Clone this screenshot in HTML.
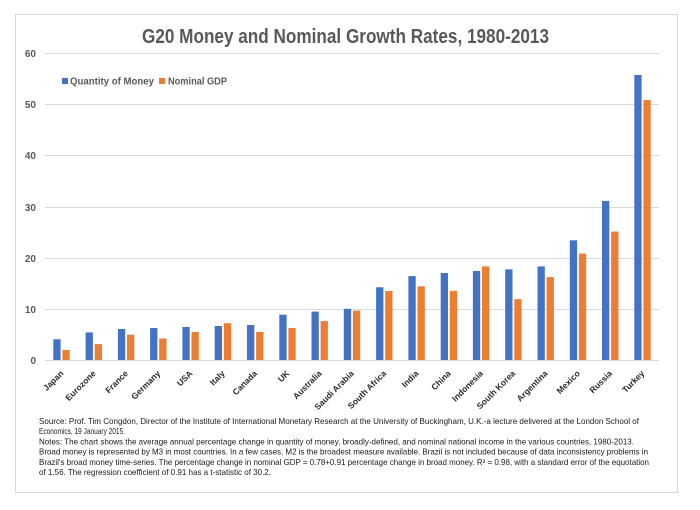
<!DOCTYPE html>
<html><head><meta charset="utf-8"><style>
html,body{margin:0;padding:0;background:#fff;}
svg{display:block;}
text{font-family:"Liberation Sans",sans-serif;}
</style></head><body>
<svg width="700" height="510" viewBox="0 0 700 510" xmlns="http://www.w3.org/2000/svg">
<rect x="0" y="0" width="700" height="510" fill="#fff"/>
<rect x="15.5" y="14.5" width="662" height="478" fill="#fff" stroke="#d9d9d9" stroke-width="1"/>
<text x="142" y="43" font-size="20" font-weight="bold" fill="#595959" textLength="407" lengthAdjust="spacingAndGlyphs">G20 Money and Nominal Growth Rates, 1980-2013</text>
<g stroke="#d9d9d9" stroke-width="1">
<line x1="45" y1="53.5" x2="659" y2="53.5"/>
<line x1="45" y1="104.5" x2="659" y2="104.5"/>
<line x1="45" y1="155.5" x2="659" y2="155.5"/>
<line x1="45" y1="207.5" x2="659" y2="207.5"/>
<line x1="45" y1="258.5" x2="659" y2="258.5"/>
<line x1="45" y1="309.5" x2="659" y2="309.5"/>
<line x1="45" y1="360.5" x2="659" y2="360.5"/>
</g>
<g font-size="10" font-weight="bold" fill="#595959" text-anchor="end">
<text x="36" y="57">60</text>
<text x="36" y="108">50</text>
<text x="36" y="159">40</text>
<text x="36" y="211">30</text>
<text x="36" y="262">20</text>
<text x="36" y="313">10</text>
<text x="36" y="364">0</text>
</g>
<rect x="62" y="78" width="6" height="6" fill="#4472c4"/>
<text x="70" y="84.5" font-size="10" font-weight="bold" fill="#595959" textLength="84" lengthAdjust="spacingAndGlyphs">Quantity of Money</text>
<rect x="159" y="78" width="6" height="6" fill="#ed7d31"/>
<text x="168" y="84.5" font-size="10" font-weight="bold" fill="#595959" textLength="59" lengthAdjust="spacingAndGlyphs">Nominal GDP</text>
<g fill="#4472c4">
<rect x="53.3" y="339.3" width="7.3" height="20.7"/>
<rect x="85.6" y="332.4" width="7.3" height="27.6"/>
<rect x="117.9" y="329.0" width="7.3" height="31.0"/>
<rect x="150.1" y="328.0" width="7.3" height="32.0"/>
<rect x="182.4" y="327.0" width="7.3" height="33.0"/>
<rect x="214.7" y="326.0" width="7.3" height="34.0"/>
<rect x="247.0" y="325.0" width="7.3" height="35.0"/>
<rect x="279.3" y="314.7" width="7.3" height="45.3"/>
<rect x="311.5" y="311.6" width="7.3" height="48.4"/>
<rect x="343.8" y="308.8" width="7.3" height="51.2"/>
<rect x="376.1" y="287.3" width="7.3" height="72.7"/>
<rect x="408.4" y="276.1" width="7.3" height="83.9"/>
<rect x="440.7" y="273.0" width="7.3" height="87.0"/>
<rect x="472.9" y="271.0" width="7.3" height="89.0"/>
<rect x="505.2" y="269.4" width="7.3" height="90.6"/>
<rect x="537.5" y="266.4" width="7.3" height="93.6"/>
<rect x="569.8" y="240.3" width="7.3" height="119.7"/>
<rect x="602.0" y="200.9" width="7.3" height="159.1"/>
<rect x="634.3" y="75.0" width="7.3" height="285.0"/>
</g>
<g fill="#ed7d31">
<rect x="62.4" y="350.0" width="7.3" height="10.0"/>
<rect x="94.7" y="344.1" width="7.3" height="15.9"/>
<rect x="127.0" y="334.7" width="7.3" height="25.3"/>
<rect x="159.2" y="338.5" width="7.3" height="21.5"/>
<rect x="191.5" y="331.9" width="7.3" height="28.1"/>
<rect x="223.8" y="323.2" width="7.3" height="36.8"/>
<rect x="256.1" y="331.9" width="7.3" height="28.1"/>
<rect x="288.4" y="328.0" width="7.3" height="32.0"/>
<rect x="320.6" y="321.1" width="7.3" height="38.9"/>
<rect x="352.9" y="310.6" width="7.3" height="49.4"/>
<rect x="385.2" y="290.9" width="7.3" height="69.1"/>
<rect x="417.5" y="286.3" width="7.3" height="73.7"/>
<rect x="449.8" y="290.9" width="7.3" height="69.1"/>
<rect x="482.0" y="266.4" width="7.3" height="93.6"/>
<rect x="514.3" y="299.1" width="7.3" height="60.9"/>
<rect x="546.6" y="277.1" width="7.3" height="82.9"/>
<rect x="578.9" y="253.6" width="7.3" height="106.4"/>
<rect x="611.1" y="231.6" width="7.3" height="128.4"/>
<rect x="643.4" y="100.1" width="7.3" height="259.9"/>
</g>
<g font-size="8.5" font-weight="bold" fill="#2b2b2b" text-anchor="end">
<text transform="translate(64,374) rotate(-45)">Japan</text>
<text transform="translate(96.3,374) rotate(-45)">Eurozone</text>
<text transform="translate(128.6,374) rotate(-45)">France</text>
<text transform="translate(160.8,374) rotate(-45)">Germany</text>
<text transform="translate(193.1,374) rotate(-45)">USA</text>
<text transform="translate(225.4,374) rotate(-45)">Italy</text>
<text transform="translate(257.7,374) rotate(-45)">Canada</text>
<text transform="translate(290,374) rotate(-45)">UK</text>
<text transform="translate(322.2,374) rotate(-45)">Australia</text>
<text transform="translate(354.5,374) rotate(-45)">Saudi Arabia</text>
<text transform="translate(386.8,374) rotate(-45)">South Africa</text>
<text transform="translate(419.1,374) rotate(-45)">India</text>
<text transform="translate(451.4,374) rotate(-45)">China</text>
<text transform="translate(483.6,374) rotate(-45)">Indonesia</text>
<text transform="translate(515.9,374) rotate(-45)">South Korea</text>
<text transform="translate(548.2,374) rotate(-45)">Argentina</text>
<text transform="translate(580.5,374) rotate(-45)">Mexico</text>
<text transform="translate(612.7,374) rotate(-45)">Russia</text>
<text transform="translate(645,374) rotate(-45)">Turkey</text>
</g>
<g font-size="8.3" fill="#1a1a1a">
<text x="39" y="424" textLength="600" lengthAdjust="spacingAndGlyphs">Source: Prof. Tim Congdon, Director of the Institute of International Monetary Research at the University of Buckingham, U.K.-a lecture delivered at the London School of</text>
<text x="39" y="434.2" textLength="86" lengthAdjust="spacingAndGlyphs">Economics, 19 January 2015.</text>
<text x="39" y="444.4" textLength="595" lengthAdjust="spacingAndGlyphs">Notes: The chart shows the average annual percentage change in quantity of money, broadly-defined, and nominal national income in the various countries, 1980-2013.</text>
<text x="39" y="454.6" textLength="609" lengthAdjust="spacingAndGlyphs">Broad money is represented by M3 in most countries. In a few cases, M2 is the broadest measure available. Brazil is not included because of data inconsistency problems in</text>
<text x="39" y="464.8" textLength="610" lengthAdjust="spacingAndGlyphs">Brazil's broad money time-series. The percentage change in nominal GDP = 0.78+0.91 percentage change in broad money. R² = 0.98, with a standard error of the equotation</text>
<text x="39" y="475" textLength="232" lengthAdjust="spacingAndGlyphs">of 1.56. The regression coefficient of 0.91 has a t-statistic of 30.2.</text>
</g>
</svg>
</body></html>
